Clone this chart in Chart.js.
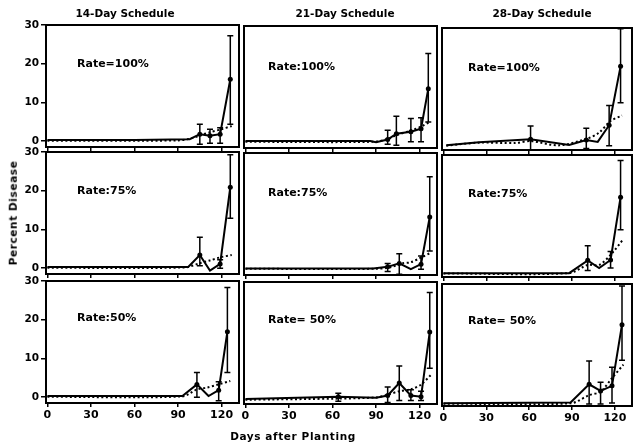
<!DOCTYPE html>
<html>
<head>
<meta charset="utf-8">
<script src="https://cdn.jsdelivr.net/npm/chart.js@4"></script>
<style>
  body { margin: 0; background: #fff; }
  #fig { position: relative; width: 636px; height: 445px; overflow: hidden;
         font-family: "DejaVu Sans", sans-serif; font-weight: bold; color: #000; }
  #fig canvas { position: absolute; left: 0; top: 0; }
  .lbl { position: absolute; white-space: nowrap; font-size: 10.5px; line-height: 1; }
</style>
</head>
<body>
<div id="fig"></div>
<script>
// Percent disease vs days after planting, 3 schedules x 3 rates
const schedules = ["14-Day Schedule", "21-Day Schedule", "28-Day Schedule"]
const rates = [
  ["Rate=100%", "Rate:100%", "Rate=100%"],
  ["Rate:75%", "Rate:75%", "Rate:75%"],
  ["Rate:50%", "Rate= 50%", "Rate= 50%"],
]
const xTicks = [0, 30, 60, 90, 120]
const yTicks = [0, 10, 20, 30]

// 14-day, 100%
const days14r100 = [0, 60, 98, 105, 112, 119, 126]
const obs14r100 = [0.3, 0.3, 0.5, 1.8, 1.4, 1.8, 16.0]
const lo14r100 = [null, null, null, -0.8, -0.5, -0.5, 4.4]
const hi14r100 = [null, null, null, 4.4, 3.1, 3.5, 27.2]
const predDays14r100 = [0, 90, 100, 105, 112, 119, 127]
const pred14r100 = [0.1, 0.2, 0.8, 1.5, 2.3, 3.0, 3.9]

// 21-day, 100%
const days21r100 = [0, 86, 90, 98, 104, 114, 121, 126]
const obs21r100 = [0.3, 0.3, 0.0, 0.7, 2.2, 2.7, 3.5, 13.8]
const lo21r100 = [null, null, null, -0.5, -0.8, 0.1, 0.1, 5.2]
const hi21r100 = [null, null, null, 3.1, 6.7, 6.1, 6.3, 22.9]
const predDays21r100 = [0, 88, 98, 104, 114, 121, 127]
const pred21r100 = [0.1, 0.1, 0.8, 1.8, 3.0, 4.0, 5.2]

// 28-day, 100%
const days28r100 = [2, 25, 61, 88, 100, 108, 116, 124]
const obs28r100 = [-0.3, 0.5, 1.3, -0.2, 1.1, 0.6, 4.9, 20.1]
const lo28r100 = [null, null, -1.7, null, -1.1, null, -0.4, 10.7]
const hi28r100 = [null, null, 4.7, null, 4.1, null, 10.0, 29.8]
const predDays28r100 = [2, 25, 50, 61, 81, 101, 109, 117, 125]
const pred28r100 = [-0.4, 0.4, 0.3, 0.8, -0.3, 1.5, 3.0, 6.0, 7.4]

// 14-day, 75%
const days14r75 = [0, 60, 97, 105, 112, 119, 126]
const obs14r75 = [0.3, 0.3, 0.3, 3.4, -0.6, 1.1, 20.9]
const lo14r75 = [null, null, null, 0.6, null, 0.0, 12.9]
const hi14r75 = [null, null, null, 8.0, null, 2.2, 29.3]
const predDays14r75 = [0, 95, 105, 112, 119, 127]
const pred14r75 = [0.1, 0.2, 1.3, 2.0, 2.8, 3.4]

// 21-day, 75%
const days21r75 = [0, 88, 98, 106, 114, 121, 127]
const obs21r75 = [0.2, 0.2, 0.6, 1.5, 0.0, 1.3, 13.5]
const lo21r75 = [null, null, -0.6, -1.3, null, 0.0, 4.7]
const hi21r75 = [null, null, 1.5, 4.0, null, 3.4, 23.9]
const predDays21r75 = [0, 90, 100, 108, 114, 121, 128]
const pred21r75 = [0.1, 0.1, 0.5, 1.5, 1.8, 3.0, 4.3]

// 28-day, 75%
const days28r75 = [0, 88, 101, 109, 117, 124]
const obs28r75 = [-0.5, -0.5, 2.8, 0.8, 2.9, 19.1]
const lo28r75 = [null, null, 0.2, null, 0.8, 10.7]
const hi28r75 = [null, null, 6.6, null, 5.1, 28.6]
const predDays28r75 = [0, 88, 101, 109, 117, 126]
const pred28r75 = [-0.6, -0.5, 1.6, 1.6, 4.2, 8.3]

// 14-day, 50%
const days14r50 = [0, 60, 93, 103, 111, 118, 124]
const obs14r50 = [0.3, 0.3, 0.3, 3.3, 0.3, 1.8, 16.9]
const lo14r50 = [null, null, null, 0.0, null, -0.9, 6.4]
const hi14r50 = [null, null, null, 6.4, null, 4.0, 28.3]
const predDays14r50 = [0, 93, 103, 110, 117, 126]
const pred14r50 = [0.1, 0.2, 2.0, 2.5, 3.2, 4.2]

// 21-day, 50%
const days21r50 = [0, 64, 90, 98, 106, 114, 121, 127]
const obs21r50 = [-0.2, 0.4, 0.1, 0.7, 3.9, 0.7, 0.4, 17.1]
const lo21r50 = [null, -0.8, null, -1.1, -0.6, -0.6, -0.6, 7.7]
const hi21r50 = [null, 1.3, null, 2.9, 8.3, 2.2, 1.8, 27.3]
const predDays21r50 = [0, 64, 90, 98, 106, 114, 121, 128]
const pred21r50 = [-0.4, -0.1, 0.2, 0.9, 1.8, 2.3, 3.5, 6.1]

// 28-day, 50%
const days28r50 = [0, 89, 102, 110, 118, 125]
const obs28r50 = [-0.8, -0.6, 4.1, 2.4, 3.7, 19.5]
const lo28r50 = [null, null, -1.0, -1.0, -0.7, 10.3]
const hi28r50 = [null, null, 10.1, 4.6, 8.5, 29.5]
const predDays28r50 = [0, 89, 102, 110, 118, 126]
const pred28r50 = [-0.9, -0.8, 1.3, 2.2, 5.7, 9.2]

const panels = [
  [days14r100, obs14r100, lo14r100, hi14r100, predDays14r100, pred14r100],
  [days21r100, obs21r100, lo21r100, hi21r100, predDays21r100, pred21r100],
  [days28r100, obs28r100, lo28r100, hi28r100, predDays28r100, pred28r100],
  [days14r75, obs14r75, lo14r75, hi14r75, predDays14r75, pred14r75],
  [days21r75, obs21r75, lo21r75, hi21r75, predDays21r75, pred21r75],
  [days28r75, obs28r75, lo28r75, hi28r75, predDays28r75, pred28r75],
  [days14r50, obs14r50, lo14r50, hi14r50, predDays14r50, pred14r50],
  [days21r50, obs21r50, lo21r50, hi21r50, predDays21r50, pred21r50],
  [days28r50, obs28r50, lo28r50, hi28r50, predDays28r50, pred28r50],
]

// layout
const W = 636, H = 445
const colLeft = [46, 244, 442], colWidth = 193
const rowTop = [25, 152, 281], rowHeight = 122
const colShift = [0, 1, 3]
const X_MIN = -1, X_MAX = 132, Y_MIN = -1.5, Y_MAX = 30
const Y_AXIS_W = 34, X_AXIS_H = 22
const FONT = "DejaVu Sans"

const fig = document.getElementById("fig")

const boxPlugin = {
  id: "box",
  afterDraw(chart) {
    const { ctx, chartArea: a } = chart
    ctx.save()
    ctx.strokeStyle = "#000"
    ctx.lineWidth = 2
    ctx.strokeRect(a.left, a.top, a.right - a.left, a.bottom - a.top)
    ctx.restore()
  },
}

const errorBarPlugin = {
  id: "errorBars",
  afterDatasetsDraw(chart) {
    const ds = chart.data.datasets[1]
    const { x, y } = chart.scales
    const ctx = chart.ctx
    ctx.save()
    ctx.strokeStyle = "#000"
    ctx.lineWidth = 1.5
    ds.data.forEach((p, i) => {
      if (ds.errLo[i] == null) return
      const px = x.getPixelForValue(p.x)
      const top = y.getPixelForValue(Math.min(ds.errHi[i], Y_MAX))
      const bot = y.getPixelForValue(Math.max(ds.errLo[i], Y_MIN))
      ctx.beginPath()
      ctx.moveTo(px, top); ctx.lineTo(px, bot)
      ctx.moveTo(px - 3, top); ctx.lineTo(px + 3, top)
      ctx.moveTo(px - 3, bot); ctx.lineTo(px + 3, bot)
      ctx.stroke()
    })
    ctx.restore()
  },
}

function makePanel(row, col) {
  const [days, obs, lo, hi, predDays, pred] = panels[row * 3 + col]
  const canvas = document.createElement("canvas")
  canvas.width = W
  canvas.height = H
  canvas.style.width = W + "px"
  canvas.style.height = H + "px"
  fig.appendChild(canvas)

  const left = colLeft[col]
  const top = rowTop[row] + colShift[col]
  const yW = col === 0 ? Y_AXIS_W : 0
  const xH = row === 2 ? X_AXIS_H : 0
  const tickFont = { family: FONT, size: 11, weight: "bold" }

  new Chart(canvas, {
    type: "line",
    data: {
      datasets: [
        {
          data: predDays.map((d, i) => ({ x: d, y: pred[i] })),
          borderColor: "#000",
          borderWidth: 2,
          borderDash: [2, 2.5],
          pointRadius: 0,
          tension: 0.3,
        },
        {
          data: days.map((d, i) => ({ x: d, y: obs[i] })),
          errLo: lo,
          errHi: hi,
          borderColor: "#000",
          borderWidth: 2,
          pointRadius: (c) => (lo[c.dataIndex] != null ? 2.5 : 0),
          pointBackgroundColor: "#000",
          pointBorderWidth: 0,
          tension: 0,
        },
      ],
    },
    options: {
      responsive: false,
      animation: false,
      layout: {
        padding: {
          left: left - yW,
          top: top,
          right: W - left - colWidth,
          bottom: H - top - rowHeight - xH,
        },
      },
      plugins: { legend: { display: false }, tooltip: { enabled: false } },
      scales: {
        x: {
          type: "linear",
          min: X_MIN,
          max: X_MAX,
          afterFit: (s) => { s.height = xH },
          afterBuildTicks: (s) => { s.ticks = xTicks.map((v) => ({ value: v })) },
          border: { display: false },
          grid: { drawOnChartArea: false, drawTicks: true, tickLength: 4, color: "#000", lineWidth: 1.5 },
          ticks: { display: row === 2, color: "#000", font: tickFont, padding: 2, maxRotation: 0, autoSkip: false },
        },
        y: {
          type: "linear",
          min: Y_MIN,
          max: Y_MAX,
          afterFit: (s) => { s.width = yW },
          afterBuildTicks: (s) => { s.ticks = yTicks.map((v) => ({ value: v })) },
          border: { display: false },
          grid: { display: col === 0, drawOnChartArea: false, drawTicks: true, tickLength: 5, color: "#000", lineWidth: 1.5 },
          ticks: { display: col === 0, color: "#000", font: { family: FONT, size: 10.5, weight: "bold" }, padding: 2, autoSkip: false },
        },
      },
    },
    plugins: [boxPlugin, errorBarPlugin],
  })
}

for (let r = 0; r < 3; r++) {
  for (let c = 0; c < 3; c++) makePanel(r, c)
}

function addLabel(text, x, y, extra) {
  const el = document.createElement("div")
  el.className = "lbl"
  el.textContent = text
  el.style.left = x + "px"
  el.style.top = y + "px"
  Object.assign(el.style, extra || {})
  fig.appendChild(el)
}

const titleX = [125, 345, 542]
schedules.forEach((t, c) => addLabel(t, titleX[c], 13, { transform: "translate(-50%, -50%)" }))

const rateX = [77, 268, 468]
const rateY = [[63, 66, 67], [190, 192, 193], [317, 319, 320]]
rates.forEach((rowLabels, r) =>
  rowLabels.forEach((t, c) =>
    addLabel(t, rateX[c], rateY[r][c], { transform: "translateY(-50%)", fontSize: "11px" })
  )
)

addLabel("Days after Planting", 293, 436, { transform: "translate(-50%, -50%)", letterSpacing: "0.6px" })
addLabel("Percent Disease", 13, 213, { transform: "translate(-50%, -50%) rotate(-90deg)", letterSpacing: "0.6px" })
</script>
</body>
</html>
